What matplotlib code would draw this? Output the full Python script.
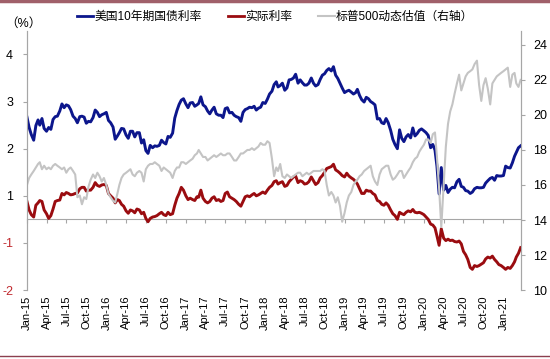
import matplotlib
matplotlib.use('Agg')
import numpy as np
import pandas as pd
import matplotlib.pyplot as plt
import matplotlib.dates as mdates
from matplotlib.lines import Line2D

plt.rcParams['font.family'] = ['Liberation Sans', 'Noto Sans CJK SC', 'DejaVu Sans']

# three readings a month (1st, 11th, 21st), Jan-2015 .. Mar-2021
dates = pd.to_datetime([f'{y}-{m:02d}-{d:02d}' for y in range(2015, 2022) for m in range(1, 13)
                        for d in (1, 11, 21) if (y, m) <= (2021, 3)])

us10y = [
    2.17, 1.95, 1.80, 1.68, 1.99, 2.11, 2.00, 2.14, 1.93, 1.87, 1.95, 1.91,
    2.12, 2.18, 2.19, 2.30, 2.45, 2.37, 2.43, 2.41, 2.33, 2.19, 2.14, 2.05,
    2.18, 2.19, 2.17, 2.04, 2.08, 2.07, 2.16, 2.32, 2.27, 2.18, 2.22, 2.24,
    2.27, 2.10, 2.05, 1.96, 1.70, 1.77, 1.84, 1.93, 1.92, 1.79, 1.72, 1.87,
    1.87, 1.75, 1.84, 1.84, 1.62, 1.69, 1.46, 1.40, 1.57, 1.52, 1.56, 1.55,
    1.57, 1.68, 1.63, 1.60, 1.76, 1.74, 1.83, 2.15, 2.31, 2.44, 2.53, 2.56,
    2.45, 2.37, 2.47, 2.48, 2.40, 2.43, 2.46, 2.60, 2.43, 2.39, 2.30, 2.24,
    2.32, 2.38, 2.24, 2.21, 2.21, 2.16, 2.35, 2.37, 2.26, 2.27, 2.21, 2.18,
    2.16, 2.08, 2.27, 2.33, 2.35, 2.38, 2.37, 2.40, 2.32, 2.36, 2.38, 2.48,
    2.46, 2.55, 2.66, 2.72, 2.86, 2.92, 2.81, 2.84, 2.89, 2.74, 2.79, 2.96,
    2.97, 3.00, 3.08, 2.89, 2.96, 2.90, 2.85, 2.85, 2.89, 3.00, 2.89, 2.83,
    2.86, 2.97, 3.06, 3.09, 3.16, 3.20, 3.15, 3.24, 3.06, 2.99, 2.89, 2.79,
    2.69, 2.72, 2.74, 2.70, 2.66, 2.69, 2.76, 2.63, 2.54, 2.49, 2.59, 2.56,
    2.50, 2.47, 2.43, 2.13, 2.14, 2.05, 2.03, 2.14, 2.05, 1.89, 1.70, 1.59,
    1.50, 1.90, 1.72, 1.65, 1.75, 1.80, 1.73, 1.94, 1.77, 1.82, 1.89, 1.92,
    1.88, 1.84, 1.78, 1.52, 1.59, 1.47, 1.13, 0.54, 1.10, 0.62, 0.72, 0.57,
    0.64, 0.68, 0.67, 0.80, 0.85, 0.70, 0.68, 0.61, 0.60, 0.55, 0.58, 0.65,
    0.68, 0.67, 0.67, 0.68, 0.77, 0.82, 0.87, 0.89, 0.83, 0.93, 0.92, 0.92,
    0.93, 1.13, 1.10, 1.09, 1.20, 1.34, 1.42, 1.52, 1.56,
]

real_rate = [
    0.38, 0.20, 0.10, 0.05, 0.30, 0.35, 0.40, 0.38, 0.20, 0.12, 0.02, 0.08,
    0.22, 0.38, 0.40, 0.41, 0.55, 0.52, 0.57, 0.55, 0.52, 0.53, 0.55, 0.56,
    0.65, 0.68, 0.68, 0.60, 0.62, 0.62, 0.68, 0.78, 0.72, 0.70, 0.73, 0.74,
    0.72, 0.55, 0.50, 0.45, 0.35, 0.42, 0.40, 0.32, 0.28, 0.18, 0.13, 0.20,
    0.18, 0.14, 0.22, 0.20, 0.12, 0.15, 0.02, -0.05, 0.02, 0.05, 0.06, 0.08,
    0.12, 0.15, 0.10, 0.08, 0.15, 0.10, 0.12, 0.30, 0.45, 0.55, 0.68, 0.62,
    0.50, 0.42, 0.45, 0.42, 0.40, 0.48, 0.47, 0.62, 0.45, 0.38, 0.35, 0.38,
    0.45, 0.48, 0.40, 0.42, 0.38, 0.40, 0.55, 0.58, 0.48, 0.45, 0.42, 0.38,
    0.32, 0.28, 0.38, 0.48, 0.50, 0.48, 0.52, 0.55, 0.50, 0.52, 0.55, 0.58,
    0.55, 0.62, 0.68, 0.72, 0.80, 0.82, 0.75, 0.78, 0.80, 0.70, 0.72, 0.80,
    0.85, 0.90, 0.92, 0.78, 0.82, 0.80, 0.75, 0.76, 0.80, 0.90, 0.82, 0.74,
    0.78, 0.88, 0.93, 1.00, 1.08, 1.10, 1.12, 1.17, 1.05, 1.02, 0.98, 0.93,
    0.90, 0.98, 0.92, 0.88, 0.85, 0.80, 0.75, 0.65, 0.55, 0.55, 0.62, 0.60,
    0.60, 0.55, 0.52, 0.40, 0.38, 0.32, 0.30, 0.35, 0.30, 0.20, 0.12, 0.08,
    0.00, 0.15, 0.12, 0.10, 0.15, 0.18, 0.16, 0.21, 0.15, 0.14, 0.15, 0.13,
    0.10, 0.05, 0.00, -0.10, -0.12, -0.18, -0.35, -0.55, -0.20, -0.40, -0.45, -0.42,
    -0.45, -0.44, -0.47, -0.48, -0.46, -0.52, -0.68, -0.75, -0.85, -1.02, -1.06, -0.98,
    -1.00, -0.98, -0.95, -0.92, -0.84, -0.80, -0.82, -0.78, -0.85, -0.90, -0.96, -0.98,
    -1.02, -1.06, -1.02, -1.04, -0.98, -0.90, -0.80, -0.72, -0.60,
]

spx_pe = [
    16.0, 16.4, 16.6, 16.8, 17.0, 17.2, 17.3, 16.9, 17.1, 16.9, 17.0, 16.9,
    17.1, 17.2, 17.1, 17.0, 16.9, 17.0, 16.7, 16.9, 17.0, 16.8, 16.6, 15.3,
    15.4, 14.9, 15.3, 15.2, 15.9, 16.3, 16.6, 16.4, 16.7, 16.5, 16.2, 16.4,
    16.0, 15.5, 15.3, 15.1, 15.0, 15.5, 16.0, 16.4, 16.6, 16.7, 16.8, 16.9,
    16.6, 16.5, 16.7, 16.8, 16.7, 16.2, 16.9, 17.1, 17.2, 17.2, 17.3, 17.2,
    17.1, 16.8, 17.0, 16.9, 16.8, 16.7, 16.4, 16.8, 17.0, 17.0, 17.3, 17.3,
    17.2, 17.3, 17.4, 17.5, 17.7, 17.8, 18.0, 17.8, 17.6, 17.6, 17.4, 17.5,
    17.6, 17.7, 17.6, 17.7, 17.8, 17.7, 17.7, 17.8, 17.8, 17.6, 17.4, 17.4,
    17.6, 17.8, 17.8, 17.9, 18.0, 18.0, 18.1, 18.0, 18.1, 18.2, 18.4, 18.3,
    18.3, 18.5, 18.4, 17.5, 16.5, 17.0, 16.8, 17.2, 16.5, 16.4, 16.6, 16.5,
    16.4, 16.5, 16.6, 16.7, 16.7, 16.5, 16.6, 16.7, 16.6, 16.7, 16.8, 16.8,
    16.8, 16.8, 16.9, 16.8, 16.0, 15.4, 15.6, 15.4, 15.0, 15.3, 14.8, 13.9,
    14.4, 15.0, 15.4, 15.6, 16.0, 16.2, 16.3, 16.5, 16.6, 16.8, 16.9, 17.0,
    17.1, 16.5, 16.2, 16.0, 16.6, 16.9, 17.0, 17.1, 17.1, 16.6, 16.3, 16.4,
    16.6, 16.8, 16.8, 16.4, 16.6, 16.8, 17.0, 17.3, 17.5, 17.6, 17.9, 18.1,
    18.3, 18.6, 18.6, 18.4, 18.9, 19.0, 17.6, 15.8, 13.6, 16.0, 18.2, 19.5,
    20.2, 20.6, 21.2, 21.8, 22.3, 21.4, 21.8, 22.2, 22.4, 22.5, 22.6, 22.9,
    23.1, 21.7, 20.8, 21.7, 22.1, 21.5, 20.6, 21.8, 22.0, 22.2, 22.3, 22.4,
    22.5, 22.6, 22.7, 21.6, 22.3, 22.4, 21.8, 21.6, 22.0,
]

left_ticks = [-1.5, -0.5, 0.5, 1.5, 2.5, 3.5]
left_labels = ['-2', '-1', '1', '2', '3', '4']
right_ticks = [10, 12, 14, 16, 18, 20, 22, 24]

blue = '#0c168c'
red = '#9a0c10'
grey = '#c4c4c4'
axis_col = '#a6a6a6'

fig = plt.figure(figsize=(5.5, 3.59), dpi=100)
ax = fig.add_axes([0.049, 0.192, 0.898, 0.722])
ax2 = ax.twinx()

ax.plot(dates, us10y, color=blue, lw=2.1, zorder=3)
ax.plot(dates, real_rate, color=red, lw=2.1, zorder=3)
ax2.plot(dates, spx_pe, color=grey, lw=1.5)

ax.set_xlim(pd.Timestamp('2015-01-01'), pd.Timestamp('2021-03-22'))
ax.set_ylim(-1.5, 4.0)
ax2.set_ylim(10, 24.8)

# left axis: excel-style rounded labels, negatives in red
ax.set_yticks(left_ticks)
ax.set_yticklabels(left_labels)
for t, lab in zip(ax.get_yticklabels(), left_labels):
    if lab.startswith('-'):
        t.set_color('#c0282d')
ax.tick_params(axis='y', direction='out', length=3, color=axis_col, labelsize=9, pad=7)
ax2.set_yticks(right_ticks)
ax2.tick_params(axis='y', direction='out', length=3, color=axis_col, labelsize=9, pad=6)

# category line at zero with tick marks, labels at the bottom
ax.spines['bottom'].set_position(('data', 0))
ax.spines['bottom'].set_color(axis_col)
ax.xaxis.set_major_locator(mdates.MonthLocator(bymonth=[1, 4, 7, 10]))
ax.tick_params(axis='x', direction='out', length=3, color=axis_col, labelbottom=False)
sec = ax.secondary_xaxis('bottom')
sec.xaxis.set_major_locator(mdates.MonthLocator(bymonth=[1, 4, 7, 10]))
sec.xaxis.set_major_formatter(mdates.DateFormatter('%b-%y'))
sec.tick_params(length=0, labelsize=8, labelrotation=90, pad=4)
sec.spines['bottom'].set_visible(False)

for a in (ax, ax2):
    a.spines['top'].set_visible(False)
    a.spines['left'].set_color(axis_col)
    a.spines['right'].set_color(axis_col)
ax2.spines['bottom'].set_visible(False)

handles = [Line2D([], [], color=blue, lw=2.0), Line2D([], [], color=red, lw=2.0),
           Line2D([], [], color=grey, lw=1.5)]
labels = ['美国10年期国债利率', '实际利率', '标普500动态估值（右轴）']
fig.legend(handles, labels, loc='center', bbox_to_anchor=(0.5, 0.952), ncol=3, frameon=False,
           fontsize=8.5, handlelength=1.4, handletextpad=0.1, columnspacing=2.2)

fig.text(0.043, 0.935, '（%）', ha='center', va='center', fontsize=9)

# report page rules
fig.add_artist(Line2D([0, 1], [0.996, 0.996], color='#a0606a', lw=2.5))
fig.add_artist(Line2D([0, 1], [0.007, 0.007], color='#8c3f4f', lw=1.0))

fig.savefig('out.png', dpi=100)
